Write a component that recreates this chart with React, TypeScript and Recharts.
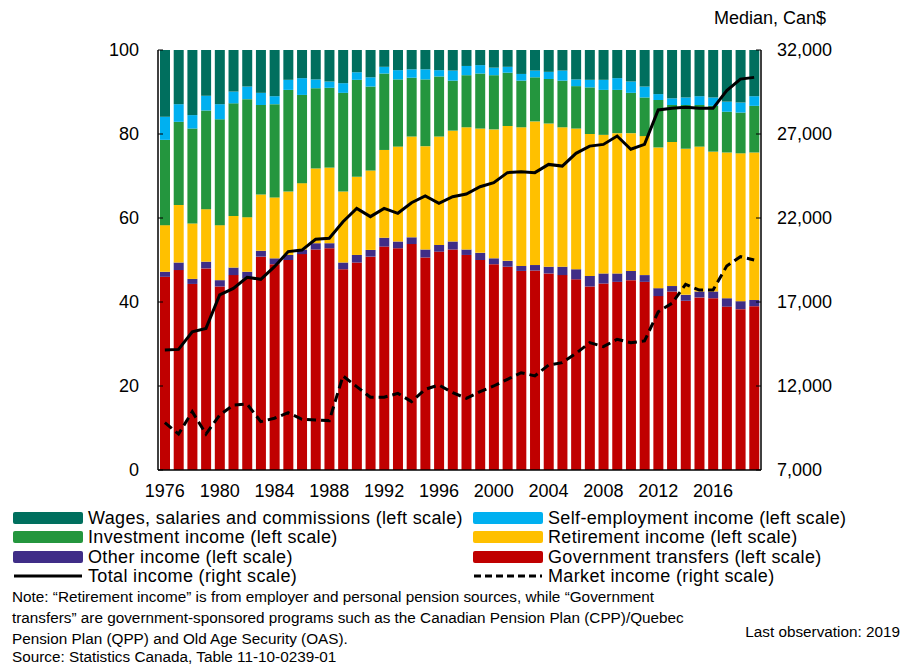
import React from "react";
import { ComposedChart, Bar, Line, XAxis, YAxis } from "recharts";

const years = [
  1976, 1977, 1978, 1979, 1980, 1981, 1982, 1983, 1984, 1985,
  1986, 1987, 1988, 1989, 1990, 1991, 1992, 1993, 1994, 1995,
  1996, 1997, 1998, 1999, 2000, 2001, 2002, 2003, 2004, 2005,
  2006, 2007, 2008, 2009, 2010, 2011, 2012, 2013, 2014, 2015,
  2016, 2017, 2018, 2019,
];

// shares of income, % (left scale)
const govTransfers = [
  46.0, 47.6, 44.3, 48.0, 43.7, 46.4, 45.6, 50.8, 49.0, 50.0,
  51.4, 52.5, 52.8, 47.8, 49.4, 50.8, 53.2, 52.8, 53.8, 50.6,
  52.0, 52.5, 51.2, 50.0, 49.0, 48.4, 47.4, 47.5, 46.8, 46.4,
  45.4, 43.7, 44.4, 44.8, 45.2, 44.8, 41.4, 42.5, 40.3, 41.1,
  40.9, 38.9, 38.3, 39.0,
];
const otherIncome = [
  1.2, 1.8, 1.2, 1.6, 1.5, 1.8, 1.6, 1.4, 1.4, 1.2,
  1.1, 1.5, 1.2, 1.6, 1.8, 1.6, 2.1, 1.6, 1.6, 1.9,
  1.6, 1.9, 1.3, 1.7, 1.4, 1.4, 1.2, 1.3, 1.6, 2.0,
  2.4, 2.5, 2.4, 2.0, 2.2, 1.6, 1.9, 1.3, 1.4, 1.4,
  1.6, 2.0, 1.9, 1.5,
];
const retirement = [
  11.1, 13.7, 13.2, 12.5, 13.1, 12.3, 13.0, 13.4, 14.5, 15.1,
  15.8, 17.8, 18.0, 16.9, 18.6, 18.9, 20.9, 22.6, 24.0, 24.6,
  25.8, 26.4, 29.1, 29.6, 30.7, 32.1, 33.0, 34.2, 34.1, 33.2,
  33.5, 33.8, 33.0, 33.4, 32.8, 33.1, 33.5, 34.3, 34.8, 34.5,
  33.3, 34.7, 35.2, 35.1,
];
const investment = [
  20.3, 19.8, 22.6, 23.5, 25.2, 26.8, 28.1, 21.3, 22.2, 24.2,
  21.0, 19.1, 19.0, 23.5, 23.1, 20.0, 18.2, 16.0, 14.0, 15.9,
  14.3, 11.9, 12.4, 13.1, 12.9, 12.7, 11.1, 10.5, 10.6, 11.1,
  10.1, 11.1, 10.7, 10.3, 9.6, 9.2, 11.3, 8.8, 10.4, 9.9,
  10.9, 9.7, 9.7, 11.1,
];
const selfEmployment = [
  5.5, 4.2, 3.2, 3.5, 3.6, 2.8, 3.0, 2.9, 1.9, 2.4,
  4.0, 2.1, 1.5, 2.3, 1.8, 2.2, 1.6, 2.2, 2.0, 2.4,
  1.5, 2.4, 2.2, 2.0, 1.8, 1.4, 1.6, 1.6, 1.7, 2.4,
  1.6, 1.8, 2.4, 2.8, 2.7, 2.6, 1.4, 1.6, 1.8, 2.1,
  2.0, 2.4, 2.4, 2.3,
];
const wages = [
  15.9, 12.9, 15.5, 10.9, 12.9, 9.9, 8.7, 10.2, 11.0, 7.1,
  6.7, 7.0, 7.5, 7.9, 5.3, 6.5, 4.0, 4.8, 4.6, 4.6,
  4.8, 4.9, 3.8, 3.6, 4.2, 4.0, 5.7, 4.9, 5.2, 4.9,
  7.0, 7.1, 7.1, 6.7, 7.5, 8.7, 10.5, 11.5, 11.3, 11.0,
  11.3, 12.3, 12.5, 11.0,
];

// median income, Can$ (right scale)
const totalIncome = [
  14140, 14180, 15230, 15430, 17420, 17810, 18470, 18350, 19100, 20000,
  20090, 20730, 20790, 21780, 22570, 22080, 22570, 22280, 22910, 23310,
  22870, 23270, 23430, 23860, 24100, 24700, 24760, 24700, 25190, 25090,
  25850, 26280, 26380, 26880, 26090, 26380, 28430, 28530, 28590, 28530,
  28530, 29580, 30270, 30370,
];
const marketIncome = [
  9820, 9140, 10470, 9140, 10270, 10870, 10930, 9880, 10080, 10410,
  10020, 9980, 9940, 12600, 11960, 11330, 11330, 11560, 11070, 11800,
  12060, 11600, 11270, 11660, 12000, 12400, 12790, 12600, 13250, 13390,
  13940, 14580, 14340, 14780, 14580, 14680, 16420, 16920, 18050, 17710,
  17710, 19140, 19700, 19500,
];

const leftTicks = [0, 20, 40, 60, 80, 100];
const rightTicks = [7000, 12000, 17000, 22000, 27000, 32000];

const data = years.map((year, i) => ({
  year,
  gov: govTransfers[i],
  other: otherIncome[i],
  retire: retirement[i],
  invest: investment[i],
  self: selfEmployment[i],
  wages: wages[i],
  total: totalIncome[i],
  market: marketIncome[i],
}));

const font = "'Liberation Sans', Arial, sans-serif";
const tickStyle = { fontSize: 18, fill: "#000", fontFamily: font };

const colors = {
  wages: "#006F5E",
  self: "#00B0F0",
  invest: "#24963E",
  retire: "#FFC000",
  other: "#3F2D87",
  gov: "#C00000",
};

function Swatch({ color }: { color: string }) {
  return (
    <div style={{ width: 70, height: 12, background: color, borderRadius: 2 }} />
  );
}

function LineSwatch({ dashed }: { dashed?: boolean }) {
  return (
    <svg width={70} height={12}>
      <line
        x1={1}
        x2={69}
        y1={6}
        y2={6}
        stroke="#000"
        strokeWidth={3}
        strokeDasharray={dashed ? "7 4" : undefined}
      />
    </svg>
  );
}

const legendRows = [
  [
    { swatch: <Swatch color={colors.wages} />, label: "Wages, salaries and commissions (left scale)" },
    { swatch: <Swatch color={colors.self} />, label: "Self-employment income (left scale)" },
  ],
  [
    { swatch: <Swatch color={colors.invest} />, label: "Investment income (left scale)" },
    { swatch: <Swatch color={colors.retire} />, label: "Retirement income (left scale)" },
  ],
  [
    { swatch: <Swatch color={colors.other} />, label: "Other income (left scale)" },
    { swatch: <Swatch color={colors.gov} />, label: "Government transfers (left scale)" },
  ],
  [
    { swatch: <LineSwatch />, label: "Total income (right scale)" },
    { swatch: <LineSwatch dashed />, label: "Market income (right scale)" },
  ],
];
const rowCenters = [518, 537, 557, 576];
const colLefts = [13, 473];

const noteLines = [
  "Note: \u201cRetirement income\u201d is from employer and personal pension sources, while \u201cGovernment",
  "transfers\u201d are government-sponsored programs such as the Canadian Pension Plan (CPP)/Quebec",
  "Pension Plan (QPP) and Old Age Security (OAS).",
  "Source: Statistics Canada, Table 11-10-0239-01",
];
const noteCenters = [597, 618, 639, 657];

export default function App() {
  return (
    <div
      style={{
        position: "absolute",
        left: 0,
        top: 0,
        width: 904,
        height: 666,
        background: "#fff",
        fontFamily: font,
        color: "#000",
        overflow: "hidden",
      }}
    >
      <div style={{ position: "absolute", left: 714, top: 7, fontSize: 18, lineHeight: "22px" }}>
        Median, Can$
      </div>
      <div style={{ position: "absolute", left: 0, top: 0 }}>
        <ComposedChart
          width={904}
          height={500}
          data={data}
          margin={{ top: 50, right: 0, bottom: 0, left: 0 }}
          barSize={10}
        >
          <XAxis
            dataKey="year"
            interval={3}
            height={30}
            tickLine={false}
            tickSize={0}
            tickMargin={14}
            axisLine={{ stroke: "#000", strokeWidth: 1.5 }}
            tick={tickStyle}
          />
          <YAxis
            yAxisId="left"
            orientation="left"
            width={158}
            domain={[0, 100]}
            ticks={leftTicks}
            interval={0}
            tickSize={-5}
            tickMargin={24}
            tickLine={{ stroke: "#000" }}
            axisLine={{ stroke: "#000", strokeWidth: 1.5 }}
            tick={tickStyle}
          />
          <YAxis
            yAxisId="right"
            orientation="right"
            width={143}
            domain={[7000, 32000]}
            ticks={rightTicks}
            interval={0}
            tickSize={-5}
            tickMargin={21}
            tickLine={{ stroke: "#000" }}
            axisLine={{ stroke: "#000", strokeWidth: 1.5 }}
            tick={tickStyle}
            tickFormatter={(v: number) => v.toLocaleString("en-US")}
          />
          <Bar yAxisId="left" dataKey="gov" stackId="a" fill={colors.gov} isAnimationActive={false} />
          <Bar yAxisId="left" dataKey="other" stackId="a" fill={colors.other} isAnimationActive={false} />
          <Bar yAxisId="left" dataKey="retire" stackId="a" fill={colors.retire} isAnimationActive={false} />
          <Bar yAxisId="left" dataKey="invest" stackId="a" fill={colors.invest} isAnimationActive={false} />
          <Bar yAxisId="left" dataKey="self" stackId="a" fill={colors.self} isAnimationActive={false} />
          <Bar yAxisId="left" dataKey="wages" stackId="a" fill={colors.wages} isAnimationActive={false} />
          <Line
            yAxisId="right"
            type="linear"
            dataKey="total"
            stroke="#000"
            strokeWidth={3}
            dot={false}
            isAnimationActive={false}
          />
          <Line
            yAxisId="right"
            type="linear"
            dataKey="market"
            stroke="#000"
            strokeWidth={3}
            strokeDasharray="9 5"
            dot={false}
            isAnimationActive={false}
          />
        </ComposedChart>
      </div>

      {legendRows.map((row, r) =>
        row.map((item, c) => (
          <div
            key={`lg-${r}-${c}`}
            style={{
              position: "absolute",
              left: colLefts[c],
              top: rowCenters[r] - 11,
              height: 22,
              display: "flex",
              alignItems: "center",
              fontSize: 18,
              letterSpacing: 0.35,
              whiteSpace: "nowrap",
            }}
          >
            {item.swatch}
            <span style={{ marginLeft: 5 }}>{item.label}</span>
          </div>
        ))
      )}

      {noteLines.map((line, i) => (
        <div
          key={`note-${i}`}
          style={{
            position: "absolute",
            left: 12,
            top: noteCenters[i] - 9,
            height: 18,
            lineHeight: "18px",
            fontSize: 15.3,
            whiteSpace: "nowrap",
          }}
        >
          {line}
        </div>
      ))}
      <div
        style={{
          position: "absolute",
          right: 4,
          top: 623,
          lineHeight: "18px",
          fontSize: 15.3,
          whiteSpace: "nowrap",
        }}
      >
        Last observation: 2019
      </div>
    </div>
  );
}
